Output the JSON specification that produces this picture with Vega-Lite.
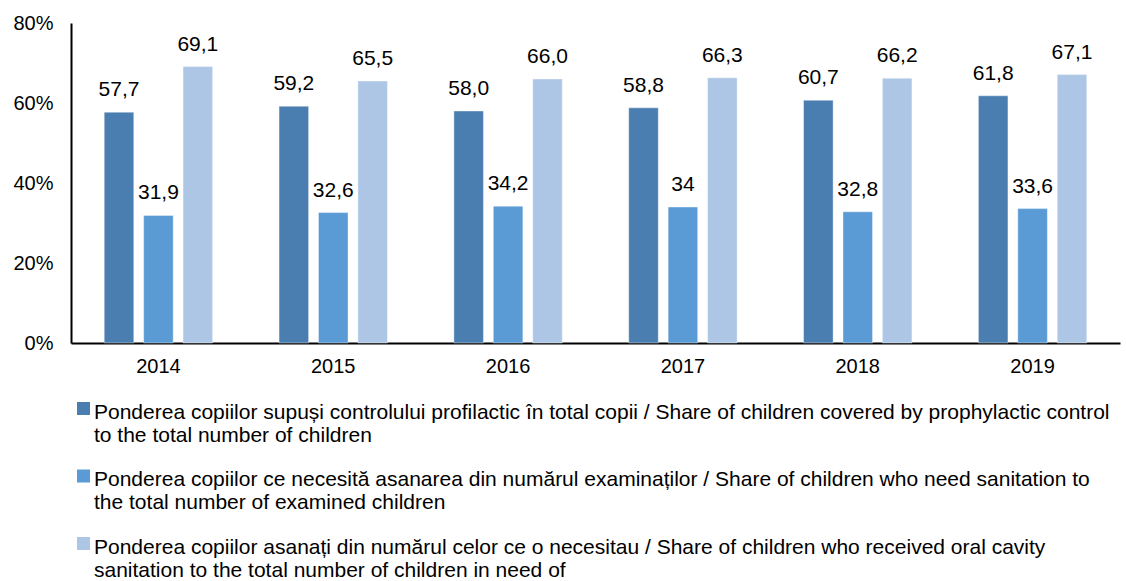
{
  "$schema": "https://vega.github.io/schema/vega-lite/v6.json",
  "autosize": "none",
  "width": 1049,
  "height": 320,
  "padding": {"left": 71, "top": 23, "right": 6, "bottom": 238},
  "background": "white",
  "config": {
    "view": {"stroke": null},
    "font": "Liberation Sans",
    "axis": {"labelFont": "Liberation Sans", "labelColor": "#000000", "labelFontSize": 20, "domainColor": "#000000", "domainWidth": 2, "ticks": false, "grid": false, "title": null}
  },
  "data": {
    "values": [
      {"year": "2014", "series": "A", "value": 57.7, "label": "57,7"},
      {"year": "2014", "series": "B", "value": 31.9, "label": "31,9"},
      {"year": "2014", "series": "C", "value": 69.1, "label": "69,1"},
      {"year": "2015", "series": "A", "value": 59.2, "label": "59,2"},
      {"year": "2015", "series": "B", "value": 32.6, "label": "32,6"},
      {"year": "2015", "series": "C", "value": 65.5, "label": "65,5"},
      {"year": "2016", "series": "A", "value": 58.0, "label": "58,0"},
      {"year": "2016", "series": "B", "value": 34.2, "label": "34,2"},
      {"year": "2016", "series": "C", "value": 66.0, "label": "66,0"},
      {"year": "2017", "series": "A", "value": 58.8, "label": "58,8"},
      {"year": "2017", "series": "B", "value": 34.0, "label": "34"},
      {"year": "2017", "series": "C", "value": 66.3, "label": "66,3"},
      {"year": "2018", "series": "A", "value": 60.7, "label": "60,7"},
      {"year": "2018", "series": "B", "value": 32.8, "label": "32,8"},
      {"year": "2018", "series": "C", "value": 66.2, "label": "66,2"},
      {"year": "2019", "series": "A", "value": 61.8, "label": "61,8"},
      {"year": "2019", "series": "B", "value": 33.6, "label": "33,6"},
      {"year": "2019", "series": "C", "value": 67.1, "label": "67,1"}
    ]
  },
  "encoding": {
    "x": {"field": "year", "type": "nominal", "scale": {"paddingInner": 0.38, "paddingOuter": 0.19}, "axis": {"labelAngle": 0, "labelPadding": 13}},
    "xOffset": {"field": "series", "type": "nominal", "scale": {"domain": ["A", "B", "C"], "paddingInner": 0.25, "paddingOuter": 0}},
    "y": {"field": "value", "type": "quantitative", "scale": {"domain": [0, 80]}, "axis": {"values": [0, 20, 40, 60, 80], "labelExpr": "datum.value + '%'", "labelPadding": 18}}
  },
  "layer": [
    {
      "mark": {"type": "bar", "stroke": "#ffffff", "strokeOpacity": 0.4, "strokeWidth": 1},
      "encoding": {
        "color": {
          "field": "series", "type": "nominal",
          "scale": {"domain": ["A", "B", "C"], "range": ["#4A7EB0", "#5B9BD5", "#ADC6E5"]},
          "legend": {
            "orient": "none", "legendX": 2, "legendY": 368, "direction": "vertical",
            "title": null, "symbolType": "M-1,0.08L1,0.08L1,2.08L-1,2.08Z", "symbolSize": 169, "symbolStrokeWidth": 0,
            "labelFont": "Liberation Sans", "labelFontSize": 21, "labelColor": "#000000",
            "labelLimit": 1100, "labelOffset": 0, "rowPadding": 12.5, "labelBaseline": "top",
            "encode": {"labels": {"update": {"lineHeight": {"value": 22}}}},
            "labelExpr": "datum.label == 'A' ? ['Ponderea copiilor supuși controlului profilactic în total copii / Share of children covered by prophylactic control', 'to the total number of children'] : datum.label == 'B' ? ['Ponderea copiilor ce necesită asanarea din numărul examinaților / Share of children who need sanitation to', 'the total number of examined children'] : ['Ponderea copiilor asanați din numărul celor ce o necesitau / Share of children who received oral cavity', 'sanitation to the total number of children in need of']"
          }
        }
      }
    },
    {
      "mark": {"type": "text", "baseline": "alphabetic", "dy": -16, "fontSize": 21, "color": "#000000", "font": "Liberation Sans"},
      "encoding": {"text": {"field": "label"}}
    }
  ]
}
